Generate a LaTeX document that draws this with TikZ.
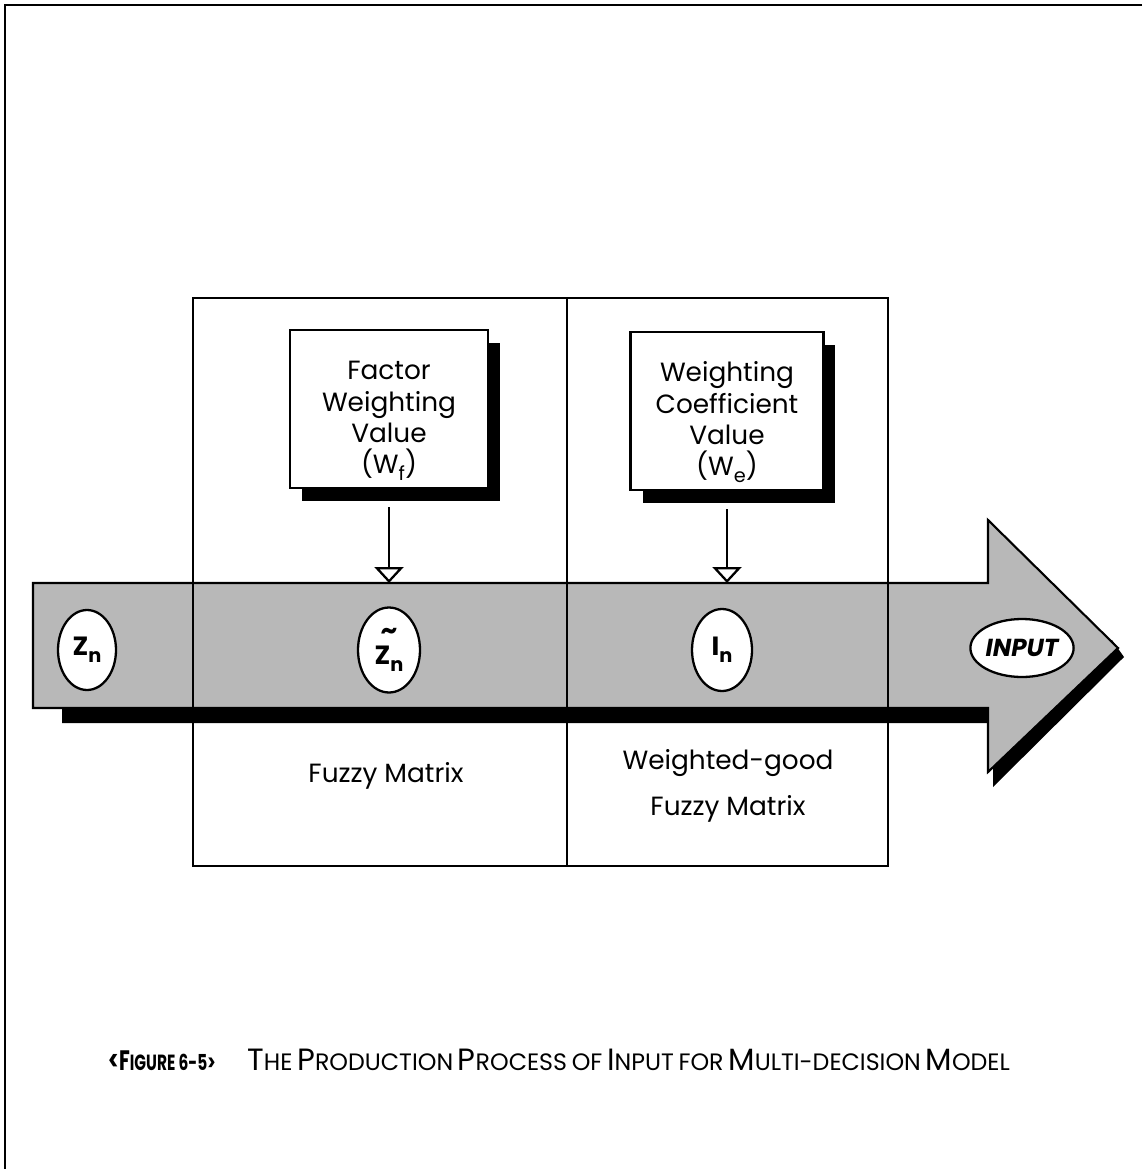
\documentclass[tikz,border=0pt]{standalone}
\usepackage{fontspec}
\usepackage{graphicx}
\setmainfont{Poppins}
\usetikzlibrary{arrows.meta,shadows,shapes.geometric}
\newcommand\lowsub[1]{\raisebox{-0.45ex}{\fontsize{11}{11}\selectfont #1}}
\newcommand\capbig[1]{{\fontsize{17.5}{17.5}\selectfont #1}}
\newcommand\capsmall[1]{{\fontsize{13.5}{13.5}\selectfont #1}}
\begin{document}
\begin{tikzpicture}[x=0.02cm,y=-0.02cm,
    valuebox/.style={draw,line width=1.3pt,fill=white,minimum width=3.96cm,
      minimum height=3.16cm,align=center,font=\fontsize{15}{17.8}\selectfont,
      drop shadow={fill=black,opacity=1,shadow xshift=0.24cm,shadow yshift=-0.26cm}},
    tag/.style={ellipse,draw,line width=1.3pt,fill=white,inner sep=0pt,
      font=\bfseries\fontsize{15}{12}\selectfont},
    feed/.style={line width=1.4pt,-{Triangle[open,width=0.58cm,length=0.32cm,line width=1.3pt]}},
    lbl/.style={font=\fontsize{15}{26}\selectfont,align=center}]
\useasboundingbox (0,0) rectangle (1142,1169);
% page frame
\draw[line width=1.5pt] (1142,5) -- (5,5) -- (5,1169);
% big arrow with its shadow
\fill[black] (62,700) -- (1112,640) -- (1124,657) -- (993,787) -- (993,723) -- (62,723) -- cycle;
\draw[line width=1.2pt,fill=black!28] (33,583) -- (988,583) -- (988,520) -- (1118,648)
  -- (988,772) -- (988,708) -- (33,708) -- cycle;
% matrix frame
\draw[line width=1.2pt] (193,298) rectangle (888,866);
\draw[line width=1.2pt] (567,298) -- (567,866);
% stages on the arrow
\node[tag,minimum width=1.16cm,minimum height=1.6cm] (zn) at (87,650) {Z\lowsub{n}};
\node[tag,minimum width=1.24cm,minimum height=1.7cm,align=center] (zt) at (389,650)
  {\textasciitilde\\[2pt]Z\lowsub{n}};
\node[tag,minimum width=1.2cm,minimum height=1.64cm] (in) at (722,650) {I\lowsub{n}};
\node[tag,minimum width=2.0cm,minimum height=1.16cm,font=\bfseries\itshape\fontsize{14}{14}\selectfont]
  (inp) at (1022,648) {INPUT};
% weighting boxes
\node[valuebox] (fwv) at (389,409) {\rule{0pt}{24pt}Factor\\Weighting\\Value\\(W\lowsub{f})};
\node[valuebox,minimum width=3.86cm] (wcv) at (727,411)
  {\rule{0pt}{24pt}Weighting\\Coefficient\\Value\\(W\lowsub{e})};
\coordinate (fhit) at (389,583);
\coordinate (whit) at (727,583);
\draw[feed] ([yshift=-0.36cm]fwv.south) -- (fhit);
\draw[feed] ([yshift=-0.36cm]wcv.south) -- (whit);
% matrix names
\node[lbl] (fm) at (386,776) {Fuzzy Matrix};
\node[lbl] (wfm) at (728,786) {Weighted-good\\Fuzzy Matrix};
% caption
\node[anchor=base west,inner sep=0pt] (fig) at (108,1070)
  {\scalebox{0.7}[1]{\bfseries{\fontsize{16}{16}\selectfont<F}{\fontsize{12.5}{12.5}\selectfont IGURE 6-5>}}};
\node[anchor=base west,inner sep=0pt] (title) at (247,1070)
  {\capbig{T}\capsmall{HE} \capbig{P}\capsmall{RODUCTION} \capbig{P}\capsmall{ROCESS}
   \capsmall{OF} \capbig{I}\capsmall{NPUT} \capsmall{FOR} \capbig{M}\capsmall{ULTI-DECISION}
   \capbig{M}\capsmall{ODEL}};
\end{tikzpicture}
\end{document}
